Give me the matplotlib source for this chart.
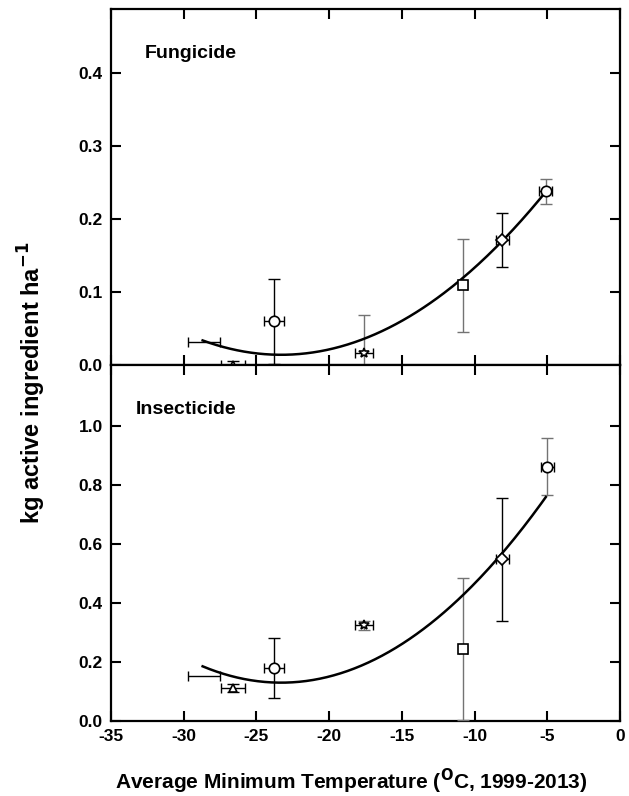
import numpy as np
import matplotlib
matplotlib.use('Agg')
import matplotlib.pyplot as plt

plt.rcParams['font.family'] = ['Liberation Sans', 'DejaVu Sans']
plt.rcParams['font.weight'] = 'bold'

# fungicide
fung_x = [-28.6, -26.6, -23.8, -17.6, -10.8, -8.1, -5.1]
fung_y = [0.031, 0.0, 0.060, 0.017, 0.109, 0.172, 0.238]
fung_xerr = [1.1, 0.83, 0.69, 0.6, 0.3, 0.45, 0.45]
fung_yerr = [0.0, 0.005, 0.058, 0.052, 0.064, 0.037, 0.017]

# insecticide
ins_x = [-28.6, -26.6, -23.8, -17.6, -10.8, -8.1, -5.0]
ins_y = [0.154, 0.112, 0.180, 0.324, 0.245, 0.548, 0.862]
ins_xerr = [1.1, 0.83, 0.69, 0.6, 0.3, 0.45, 0.45]
ins_yerr = [0.0, 0.012, 0.103, 0.015, 0.240, 0.208, 0.097]

xtick_labels = ['-35', '-30', '-25', '-20', '-15', '-10', '-5', '0']
fung_yticks = ['0.0', '0.1', '0.2', '0.3', '0.4']
ins_yticks = ['0.0', '0.2', '0.4', '0.6', '0.8', '1.0']

markers = [None, '^', 'o', '*', 's', 'D', 'o']
msizes = [0, 6, 7.5, 7, 7, 6.5, 7.5]
ycolor = ['k', 'k', 'k', '0.45', '0.45', 'k', '0.45']

# quadratic fits, vertex form (h, k, a)
fung_fit = (-23.3, 0.014, 0.000675)
ins_fit = (-23.3, 0.130, 0.0019)
fit_range = (-28.7, -5.1)

fig = plt.figure(figsize=(6.29, 7.96), dpi=100)
left, width = 111/629., 509/629.
ax1 = fig.add_axes([left, 1-365/796., width, 356/796.])
ax2 = fig.add_axes([left, 1-721/796., width, 356/796.])


def draw(ax, xs, ys, xe, ye, fit, yticklabels):
    for i in range(len(xs)):
        ax.errorbar(xs[i], ys[i], xerr=xe[i], fmt='none', ecolor='k',
                    elinewidth=1, capsize=3.5, capthick=1, zorder=3)
        if ye[i] > 0:
            ax.errorbar(xs[i], ys[i], yerr=ye[i], fmt='none', ecolor=ycolor[i],
                        elinewidth=1, capsize=4, capthick=1, zorder=3)
        if markers[i] is not None:
            ax.plot(xs[i], ys[i], marker=markers[i], ms=msizes[i], mfc='white',
                    mec='k', mew=1.2, ls='none', zorder=5)
    h, k, a = fit
    cx = np.linspace(fit_range[0], fit_range[1], 200)
    ax.plot(cx, a*(cx-h)**2 + k, color='k', lw=1.8, zorder=4)
    ax.set_xlim(-35, 0)
    ax.set_xticks(np.arange(-35, 1, 5))
    ax.set_xticklabels(xtick_labels, fontsize=12.5, fontweight='bold')
    ax.set_yticks([float(t) for t in yticklabels])
    ax.set_yticklabels(yticklabels, fontsize=12.5, fontweight='bold')
    ax.tick_params(direction='in', length=7.5, width=1.5, top=True, right=True,
                   pad=6)
    for s in ax.spines.values():
        s.set_linewidth(1.6)


draw(ax1, fung_x, fung_y, fung_xerr, fung_yerr, fung_fit, fung_yticks)
ax1.set_ylim(0, 0.488)
ax1.tick_params(labelbottom=False)
ax1.text(-32.7, 0.427, 'Fungicide', fontsize=14, fontweight='bold', va='center')

draw(ax2, ins_x, ins_y, ins_xerr, ins_yerr, ins_fit, ins_yticks)
ax2.set_ylim(0, 1.207)
ax2.text(-33.3, 1.057, 'Insecticide', fontsize=14, fontweight='bold', va='center')

fig.text(351/629., 1-781/796., 'Average Minimum Temperature ($\\mathbf{^{O}}$C, 1999-2013)',
         fontsize=15, fontweight='bold', ha='center', va='center')
fig.text(0.051, 0.519, 'kg active ingredient ha$^{\\mathbf{-1}}$', rotation=90,
         fontsize=17, fontweight='bold', ha='center', va='center')

fig.savefig('out.png', dpi=100)
